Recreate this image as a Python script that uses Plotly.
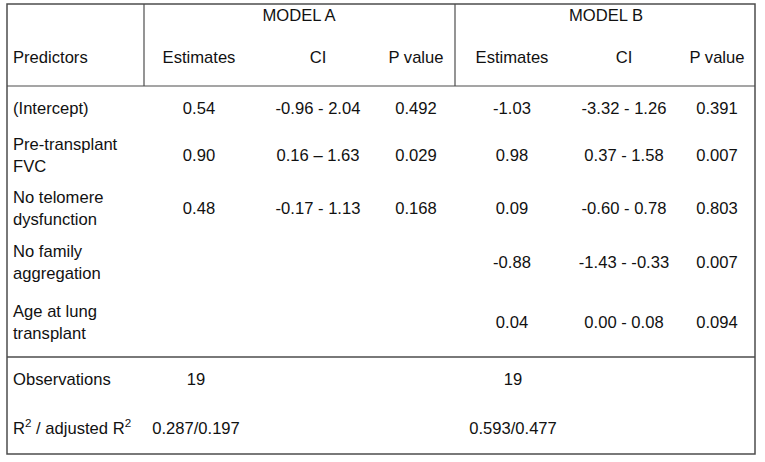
import plotly.graph_objects as go

# table content
models = ["MODEL A", "MODEL B"]
col_heads = ["Estimates", "CI", "P value", "Estimates", "CI", "P value"]
predictors = ["(Intercept)", "Pre-transplant<br>FVC", "No telomere<br>dysfunction",
              "No family<br>aggregation", "Age at lung<br>transplant"]
a_est = ["0.54", "0.90", "0.48", "", ""]
a_ci = ["-0.96 - 2.04", "0.16 \u2013 1.63", "-0.17 - 1.13", "", ""]
a_p = ["0.492", "0.029", "0.168", "", ""]
b_est = ["-1.03", "0.98", "0.09", "-0.88", "0.04"]
b_ci = ["-3.32 - 1.26", "0.37 - 1.58", "-0.60 - 0.78", "-1.43 - -0.33", "0.00 - 0.08"]
b_p = ["0.391", "0.007", "0.803", "0.007", "0.094"]
stat_labels = ["Observations", "R<sup>2</sup> / adjusted R<sup>2</sup>"]
observations = ["19", "19"]
r2 = ["0.287/0.197", "0.593/0.477"]

# layout of the grid (pixel coordinates)
W, H = 765, 462
model_x = [299, 606]
col_x = [199, 318, 416, 512, 624, 717]
head_y = [17, 59]
row_y = [110, 157, 210, 264, 324]
stat_y = [381, 430]
stat_x = [196, 513]
label_x = 13
txt_color = "#111111"
font = dict(family="Liberation Sans, Arial, sans-serif", size=16.6, color=txt_color)

fig = go.Figure()


def add_text(xs, ys, texts, pos="middle center"):
    pts = [(x, y, t) for x, y, t in zip(xs, ys, texts) if t]
    fig.add_trace(go.Scatter(x=[p[0] for p in pts], y=[p[1] for p in pts],
                             text=[p[2] for p in pts], mode="text",
                             textposition=pos, textfont=font, hoverinfo="skip",
                             cliponaxis=False))


# model titles
add_text(model_x, [head_y[0]] * 2, models)
# column headers
add_text([label_x], [head_y[1]], ["Predictors"], "middle right")
add_text(col_x, [head_y[1]] * 6, col_heads)
# predictor labels
add_text([label_x] * len(predictors), row_y, predictors, "middle right")
# values
for cx, vals in zip(col_x, [a_est, a_ci, a_p, b_est, b_ci, b_p]):
    add_text([cx] * len(vals), row_y, vals)
# bottom stats
add_text([label_x] * 2, stat_y, stat_labels, "middle right")
add_text(stat_x, [stat_y[0]] * 2, observations)
add_text(stat_x, [stat_y[1]] * 2, r2)

# borders
line = dict(color="#4d4d4d", width=1.5)
thin = dict(color="#4d4d4d", width=1.2)
left, right, top, bottom = 7, 755, 4, 454
fig.add_shape(type="rect", x0=left, x1=right, y0=top, y1=bottom, line=line)
fig.add_shape(type="line", x0=144, x1=144, y0=top, y1=86, line=thin)
fig.add_shape(type="line", x0=455, x1=455, y0=top, y1=86, line=thin)
fig.add_shape(type="line", x0=left, x1=right, y0=86, y1=86, line=thin)
fig.add_shape(type="line", x0=left, x1=right, y0=357, y1=357, line=line)

fig.update_layout(
    width=W, height=H,
    margin=dict(l=0, r=0, t=0, b=0),
    showlegend=False,
    plot_bgcolor="white", paper_bgcolor="white",
    xaxis=dict(range=[0, W], visible=False, fixedrange=True),
    yaxis=dict(range=[H, 0], visible=False, fixedrange=True),
)

fig.write_html("out.html", config={"displayModeBar": False},
               post_script="document.body.style.margin='0';")
